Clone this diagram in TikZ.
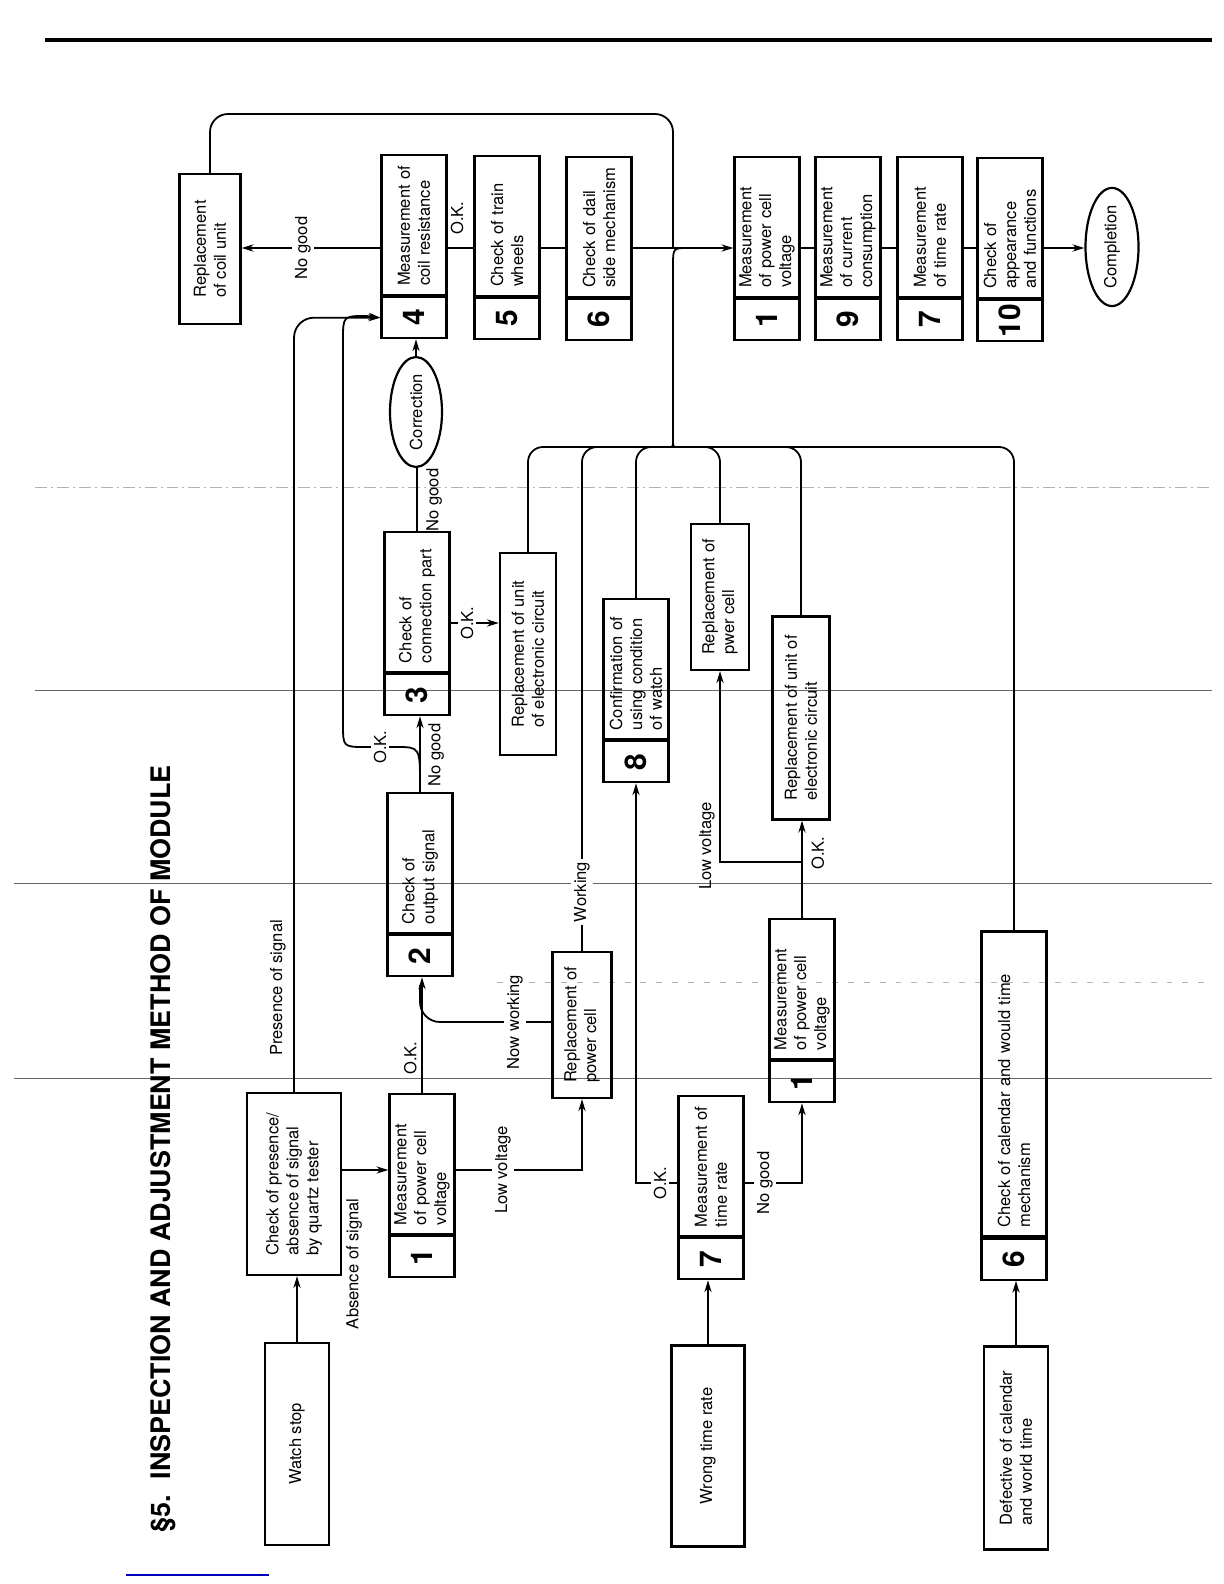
\documentclass[tikz,border=0pt]{standalone}
\usepackage{fontspec}
\setmainfont{TeX Gyre Heros}
\usetikzlibrary{shapes.geometric, arrows.meta, positioning, calc}
\newlength\pxu
\setlength\pxu{0.01764cm}
\newcommand\bodyfont{\fontsize{8.3}{10}\selectfont}
\newcommand\numfont{\bfseries\fontsize{15}{15}\selectfont}

\begin{document}
\begin{tikzpicture}[
    x=0.01764cm, y=-0.01764cm,
    box/.style={
      draw, line width=1.1pt, rotate=90,
      align=left, font=\bodyfont, inner sep=2pt
    },
    stepcell/.style={
      box, minimum width=140\pxu, minimum height=65\pxu,
      text width=122\pxu, inner xsep=9\pxu
    },
    numcell/.style={
      draw, line width=1.1pt, rotate=90,
      minimum width=41\pxu, minimum height=65\pxu,
      font=\numfont, inner sep=0pt
    },
    oval/.style={ellipse, draw, line width=1.1pt, rotate=90, font=\bodyfont, inner sep=0pt},
    note/.style={rotate=90, font=\bodyfont, inner sep=1.5pt},
    lbl/.style={note, fill=white},
    line/.style={line width=0.9pt},
    arr/.style={line, -{Stealth[length=6pt, width=3.6pt]}},
    scan/.style={black!60, line width=0.4pt}
  ]
    \useasboundingbox (0,0) rectangle (1224,1584);

    % page rule and scan marks
    \draw[line width=2pt] (45,40) -- (1212,40);
    \draw[scan, black!30, line width=0.3pt, dash pattern=on 6pt off 2pt on 1pt off 2pt] (35,487) -- (1212,487);
    \draw[scan] (35,690) -- (1212,690);
    \draw[scan] (14,883) -- (1212,883);
    \draw[scan, black!30, line width=0.3pt, dash pattern=on 3pt off 5pt] (497,982) -- (1212,982);
    \draw[scan] (14,1078) -- (1212,1078);
    \draw[blue!75!black, line width=0.8pt] (126,1575) -- (269,1575);

    \node[rotate=90, font=\bfseries\fontsize{13.5}{16}\selectfont] (heading) at (163,1149)
      {\S5.\hspace{8pt}INSPECTION AND ADJUSTMENT METHOD OF MODULE};

    % starting faults
    \node[box, minimum width=202\pxu, minimum height=64\pxu] (stop) at (297,1444) {Watch stop};
    \node[box, minimum width=201\pxu, minimum height=73\pxu] (wrongrate) at (708,1446) {Wrong time rate};
    \node[box, minimum width=203\pxu, minimum height=64\pxu] (defect) at (1016,1448)
      {Defective of calendar\\and world time};

    \node[box, minimum width=182\pxu, minimum height=94\pxu] (signal) at (294,1184)
      {Check of presence/\\absence of signal\\by quartz tester};

    % numbered checks
    \node[stepcell] (volt1) at (422,1164) {Measurement\\of power cell\\voltage};
    \node[numcell, left=0pt of volt1] (volt1num) {1};
    \node[stepcell] (output) at (420,863) {Check of\\output signal};
    \node[numcell, left=0pt of output] (outputnum) {2};
    \node[stepcell] (connect) at (417,602) {Check of\\connection part};
    \node[numcell, left=0pt of connect] (connectnum) {3};
    \node[oval, minimum width=110\pxu, minimum height=52\pxu] (correct) at (416,412) {Correction};

    \node[stepcell] (coilres) at (414,225) {Measurement of\\coil resistance};
    \node[numcell, left=0pt of coilres] (coilresnum) {4};
    \node[stepcell] (train) at (507,226) {Check of train\\wheels};
    \node[numcell, left=0pt of train] (trainnum) {5};
    \node[stepcell] (dial) at (599,227) {Check of dail\\side mechanism};
    \node[numcell, left=0pt of dial] (dialnum) {6};
    \node[box, minimum width=150\pxu, minimum height=61\pxu] (coilnew) at (210,249)
      {Replacement\\of coil unit};

    \node[stepcell] (volt3) at (767,227) {Measurement\\of power cell\\voltage};
    \node[numcell, left=0pt of volt3] (volt3num) {1};
    \node[stepcell] (current) at (848,227) {Measurement\\of current\\consumption};
    \node[numcell, left=0pt of current] (currentnum) {9};
    \node[stepcell] (rate2) at (930,227) {Measurement\\of time rate};
    \node[numcell, left=0pt of rate2] (rate2num) {7};
    \node[stepcell] (looks) at (1010,228) {Check of\\appearance\\and functions};
    \node[numcell, left=0pt of looks] (looksnum) {10};
    \node[oval, minimum width=111\pxu, minimum height=53\pxu] (done) at (1112,247) {Completion};

    % repairs
    \node[box, minimum width=202\pxu, minimum height=56\pxu] (unit1) at (528,654)
      {Replacement of unit\\of electronic circuit};
    \node[box, minimum width=146\pxu, minimum height=59\pxu] (cell1) at (582,1025)
      {Replacement of\\power cell};
    \node[stepcell] (usage) at (636,669) {Confirmation of\\using condition\\of watch};
    \node[numcell, left=0pt of usage] (usagenum) {8};
    \node[box, minimum width=146\pxu, minimum height=58\pxu] (cell2) at (720,597)
      {Replacement of\\pwer cell};
    \node[box, minimum width=203\pxu, minimum height=57\pxu] (unit2) at (801,718)
      {Replacement of unit of\\electronic circuit};
    \node[stepcell] (volt2) at (802,989) {Measurement\\of power cell\\voltage};
    \node[numcell, left=0pt of volt2] (volt2num) {1};
    \node[stepcell] (rate1) at (711,1166) {Measurement of\\time rate};
    \node[numcell, left=0pt of rate1] (rate1num) {7};
    \node[stepcell, minimum width=305\pxu, text width=287\pxu] (calendar) at (1014,1084)
      {Check of calendar and would time\\mechanism};
    \node[numcell, left=0pt of calendar] (calendarnum) {6};

    \coordinate (mainy) at (0,248);

    % watch stop
    \draw[arr] (stop.east) -- (stop.east |- signal.west);
    \draw[arr, rounded corners=20\pxu] (signal.east) |- (coilresnum.north);
    \node[note, anchor=south] (presence) at (289,988) {Presence of signal};
    \draw[arr] (signal.south |- 0,1170) -- (volt1.north |- 0,1170);
    \node[note, anchor=east] (absence) at (354,1195) {Absence of signal};
    \draw[arr] (volt1.east) -- (volt1.east |- outputnum.west);
    \node[note, anchor=south] (okvolt) at (420,1058) {O.K.};
    \draw[arr] (volt1.south |- 0,1170) -| (cell1.west);
    \node[lbl] (lowvolt1) at (503,1170) {Low voltage};
    \draw[line, rounded corners=20\pxu] (cell1.north |- 0,1022) -| (420,985);
    \node[lbl] (nowworking) at (515,1022) {Now working};
    \draw[arr] (output.east) -- (output.east |- connectnum.west);
    \node[note, anchor=north] (ngoutput) at (425,755) {No good};
    \draw[arr] (420,785) .. controls (420,747) .. (396,747) -- (366,747)
      .. controls (343,747) .. (343,724) -- (343,340)
      .. controls (343,316) .. (366,316) -- (coilresnum.north);
    \node[lbl] (okoutput) at (380,747) {O.K.};
    \draw[line] (connect.east) -- (connect.east |- correct.west);
    \node[note, anchor=north] (ngconnect) at (423,500) {No good};
    \draw[arr] (correct.east) -- (correct.east |- coilresnum.west);
    \draw[arr] (connect.south |- 0,623) -- (unit1.north |- 0,623);
    \node[lbl] (okconnect) at (467,623) {O.K.};

    % main line
    \draw[arr] (coilres.north |- mainy) -- (coilnew.south |- mainy);
    \node[lbl] (ngcoil) at (303,248) {No good};
    \draw[line] (coilres.south |- mainy) -- (train.north |- mainy);
    \node[note, anchor=west] (okcoil) at (457,238) {O.K.};
    \draw[line] (train.south |- mainy) -- (dial.north |- mainy);
    \draw[arr] (dial.south |- mainy) -- (volt3.north |- mainy);
    \draw[line] (volt3.south |- mainy) -- (current.north |- mainy);
    \draw[line] (current.south |- mainy) -- (rate2.north |- mainy);
    \draw[line] (rate2.south |- mainy) -- (looks.north |- mainy);
    \draw[arr] (looks.south |- mainy) -- (done.north |- mainy);

    % return braces
    \draw[line, rounded corners=18\pxu] (coilnew.east) |- (673,114) -- (673,230)
      .. controls (673,248) .. (688,248);
    \draw[line] (673,434) -- (673,266) .. controls (673,248) .. (688,248);
    \draw[line, rounded corners=15\pxu] (unit1.east) |- (659,447) .. controls (673,447) .. (673,434);
    \draw[line, rounded corners=15\pxu] (cell1.east) |- (659,447) .. controls (673,447) .. (673,434);
    \node[lbl] (working) at (582,892) {Working};
    \draw[line, rounded corners=15\pxu] (usage.east) |- (659,447) .. controls (673,447) .. (673,434);
    \draw[line, rounded corners=15\pxu] (cell2.east) |- (687,447) .. controls (673,447) .. (673,434);
    \draw[line, rounded corners=15\pxu] (unit2.east) |- (687,447) .. controls (673,447) .. (673,434);
    \draw[line, rounded corners=15\pxu] (calendar.east) |- (687,447) .. controls (673,447) .. (673,434);

    % wrong time rate
    \draw[arr] (wrongrate.east) -- (wrongrate.east |- rate1num.west);
    \draw[arr] (rate1.north |- 0,1183) -| (usagenum.west);
    \node[lbl] (okrate) at (660,1183) {O.K.};
    \draw[arr] (rate1.south |- 0,1183) -| (volt2num.west);
    \node[lbl] (ngrate) at (765,1183) {No good};
    \draw[arr] (volt2.east) -- (volt2.east |- unit2.west);
    \node[note, anchor=north] (okvolt2) at (808,853) {O.K.};
    \draw[arr] (volt2.east |- 0,862) -| (cell2.west);
    \node[note, anchor=south] (lowvolt2) at (718,846) {Low voltage};

    % calendar
    \draw[arr] (defect.east) -- (defect.east |- calendarnum.west);
  \end{tikzpicture}
\end{document}
